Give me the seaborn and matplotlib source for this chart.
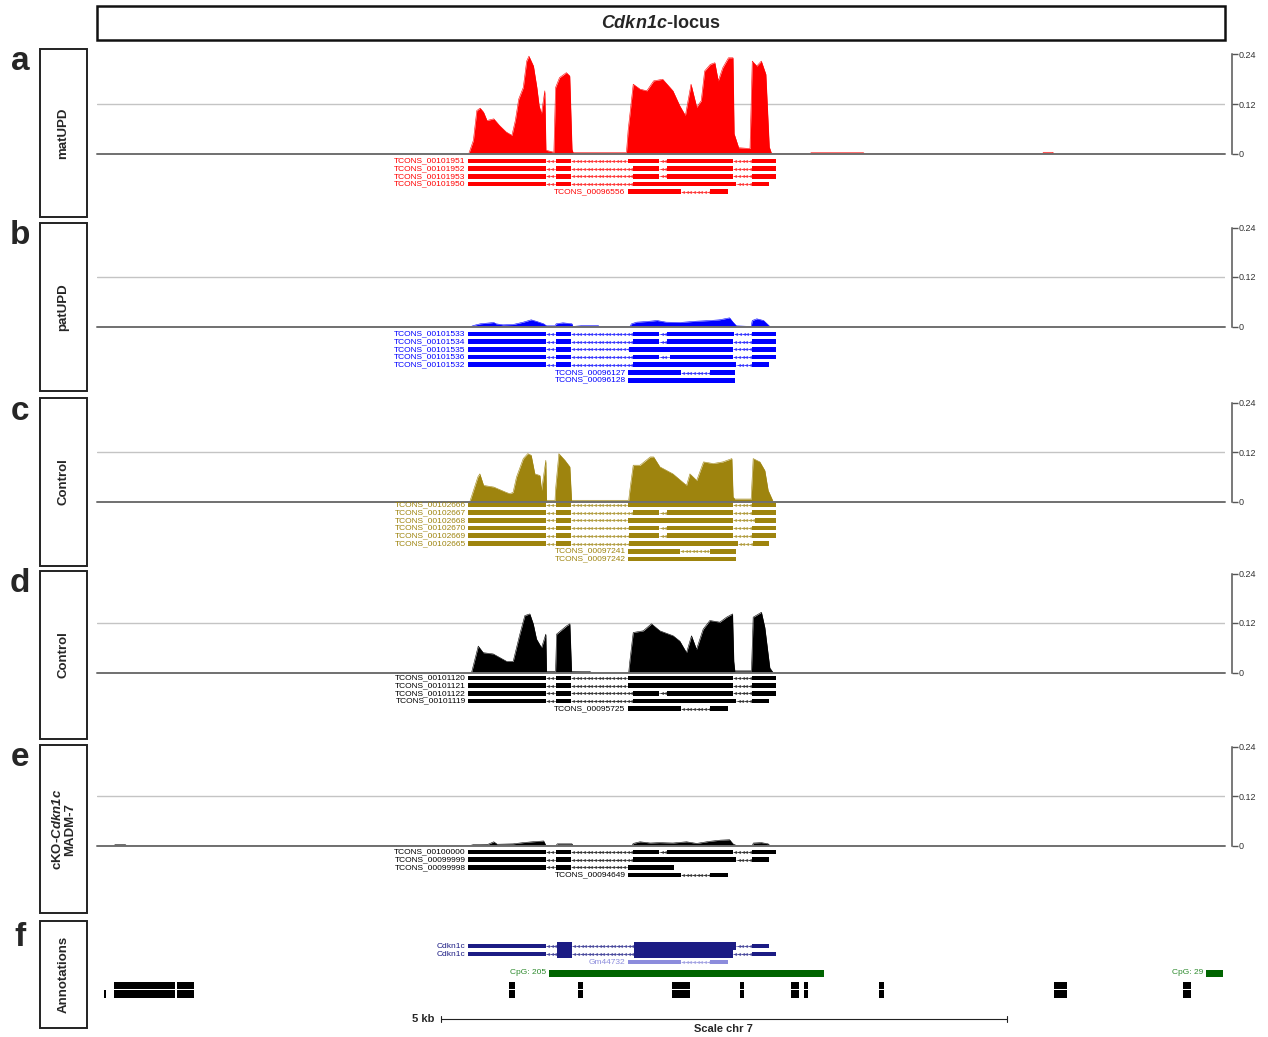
import numpy as np
import matplotlib
matplotlib.use('Agg')
import matplotlib.pyplot as plt
from matplotlib.patches import Rectangle
import seaborn as sns

sns.set_theme(style='white')
plt.rcParams['font.family'] = ['Liberation Sans', 'DejaVu Sans']
plt.rcParams['mathtext.fontset'] = 'custom'
plt.rcParams['mathtext.it'] = 'Liberation Sans:italic:bold'
plt.rcParams['mathtext.rm'] = 'Liberation Sans:italic:bold'
plt.rcParams['mathtext.bf'] = 'Liberation Sans:italic:bold'

# ---- data (genomic position in kb from left edge of window, coverage) ----
pos_a = [3.28, 3.32, 3.35, 3.38, 3.41, 3.44, 3.50, 3.55, 3.61, 3.66, 3.69, 3.72, 3.76, 3.79,
         3.81, 3.85, 3.88, 3.90, 3.92, 3.95, 3.96, 4.03, 4.045, 4.08, 4.14, 4.17, 4.19, 4.20,
         4.67, 4.685, 4.73, 4.79, 4.85, 4.91, 4.99, 5.08, 5.14, 5.19, 5.24, 5.29, 5.33, 5.36,
         5.41, 5.45, 5.48, 5.52, 5.57, 5.61, 5.62, 5.66, 5.76, 5.78, 5.82, 5.86, 5.90, 5.93,
         5.95, 6.29, 6.30, 6.76, 6.77, 8.34, 8.35, 8.43, 8.44]
val_a = [0, .032, .104, .110, .100, .080, .084, .068, .052, .044, .080, .132, .160, .224,
         .236, .212, .160, .116, .096, .152, .008, .003, .160, .184, .196, .188, .010, .002,
         .002, .056, .168, .156, .152, .176, .180, .152, .116, .092, .168, .112, .128, .200,
         .216, .220, .176, .208, .232, .232, .048, .014, .012, .224, .212, .224, .192, .016,
         0, 0, .002, .002, 0, 0, .003, .003, 0]

pos_b = [3.30, 3.32, 3.38, 3.50, 3.52, 3.58, 3.67, 3.76, 3.83, 3.88, 3.94, 3.965, 4.04, 4.05,
         4.11, 4.19, 4.195, 4.29, 4.42, 4.43, 4.70, 4.715, 4.76, 4.85, 4.94, 5.02, 5.14, 5.29,
         5.41, 5.49, 5.58, 5.61, 5.64, 5.77, 5.78, 5.82, 5.88, 5.92, 5.935]
val_b = [0, .0024, .0065, .0097, .0065, .004, .0048, .0105, .0162, .0121, .0065, .0016, .0016,
         .0065, .0089, .0065, 0, .0024, .0024, 0, 0, .0065, .0105, .0121, .0145, .0105, .0097,
         .0129, .0145, .0162, .021, .0105, .0016, 0, .0145, .0186, .0145, .004, 0]

pos_c = [3.289, 3.36, 3.377, 3.41, 3.50, 3.61, 3.64, 3.67, 3.70, 3.76, 3.80, 3.83, 3.862,
         3.907, 3.921, 3.959, 3.965, 4.04, 4.045, 4.074, 4.127, 4.171, 4.186, 4.69, 4.70, 4.73,
         4.79, 4.88, 4.91, 4.965, 5.08, 5.20, 5.23, 5.29, 5.35, 5.435, 5.52, 5.60, 5.611, 5.626,
         5.77, 5.788, 5.847, 5.891, 5.92, 5.964]
val_c = [0, .060, .067, .039, .035, .022, .019, .022, .059, .104, .116, .112, .067, .063, .027,
         .100, .003, .003, .030, .116, .100, .084, .003, .003, .027, .088, .088, .108, .108,
         .084, .067, .039, .067, .051, .096, .092, .096, .104, .011, .006, .006, .104, .096,
         .075, .027, 0]

pos_d = [3.304, 3.363, 3.407, 3.495, 3.613, 3.671, 3.730, 3.774, 3.818, 3.848, 3.877, 3.921,
         3.959, 3.965, 4.045, 4.054, 4.142, 4.171, 4.186, 4.274, 4.347, 4.36, 4.69, 4.700, 4.730,
         4.818, 4.891, 4.965, 5.082, 5.141, 5.200, 5.244, 5.288, 5.347, 5.406, 5.494, 5.553,
         5.606, 5.617, 5.626, 5.773, 5.788, 5.861, 5.891, 5.935, 5.964]
val_d = [0, .064, .048, .045, .027, .027, .093, .138, .142, .118, .081, .060, .093, .003, .003,
         .093, .113, .118, .003, .0025, .0025, 0, 0, .027, .097, .101, .118, .101, .089, .076,
         .048, .089, .056, .105, .126, .122, .134, .142, .027, .004, .004, .134, .146, .109,
         .011, 0]

pos_e = [0.15, 0.16, 0.25, 0.26, 3.29, 3.32, 3.45, 3.50, 3.53, 3.67, 3.76, 3.84, 3.94, 3.96,
         4.05, 4.06, 4.19, 4.195, 4.72, 4.73, 4.79, 4.88, 4.96, 5.08, 5.20, 5.29, 5.40, 5.50,
         5.58, 5.61, 5.64, 5.78, 5.79, 5.86, 5.92, 5.935]
val_e = [0, .002, .002, 0, 0, .002, .003, .009, .003, .004, .007, .009, .011, 0, 0, .004, .004,
         0, 0, .005, .009, .006, .007, .006, .009, .005, .010, .013, .014, .004, 0, 0, .006,
         .007, .004, 0]

tx_a = [("TCONS_00101951", [(3.27, 3.96), (4.05, 4.18), (4.68, 4.96), (5.03, 5.61), (5.78, 5.99)]),
        ("TCONS_00101952", [(3.27, 3.96), (4.05, 4.18), (4.73, 4.96), (5.03, 5.61), (5.78, 5.99)]),
        ("TCONS_00101953", [(3.27, 3.96), (4.05, 4.18), (4.73, 4.96), (5.03, 5.61), (5.78, 5.99)]),
        ("TCONS_00101950", [(3.27, 3.96), (4.05, 4.18), (4.73, 5.64), (5.78, 5.93)]),
        ("TCONS_00096556", [(4.68, 5.15), (5.41, 5.57)])]
tx_b = [("TCONS_00101533", [(3.27, 3.96), (4.05, 4.18), (4.73, 4.96), (5.03, 5.62), (5.78, 5.99)]),
        ("TCONS_00101534", [(3.27, 3.96), (4.05, 4.18), (4.73, 4.96), (5.03, 5.61), (5.78, 5.99)]),
        ("TCONS_00101535", [(3.27, 3.96), (4.05, 4.18), (4.69, 5.61), (5.78, 5.99)]),
        ("TCONS_00101536", [(3.27, 3.96), (4.05, 4.18), (4.73, 4.96), (5.05, 5.61), (5.78, 5.99)]),
        ("TCONS_00101532", [(3.27, 3.96), (4.05, 4.18), (4.73, 5.64), (5.78, 5.93)]),
        ("TCONS_00096127", [(4.68, 5.15), (5.41, 5.63)]),
        ("TCONS_00096128", [(4.68, 5.63)])]
tx_c = [("TCONS_00102666", [(3.27, 3.96), (4.05, 4.18), (4.68, 5.61), (5.78, 5.99)]),
        ("TCONS_00102667", [(3.27, 3.96), (4.05, 4.18), (4.73, 4.96), (5.03, 5.61), (5.78, 5.99)]),
        ("TCONS_00102668", [(3.27, 3.96), (4.05, 4.18), (4.68, 5.61), (5.80, 5.99)]),
        ("TCONS_00102670", [(3.27, 3.96), (4.05, 4.18), (4.69, 4.96), (5.03, 5.61), (5.78, 5.99)]),
        ("TCONS_00102669", [(3.27, 3.96), (4.05, 4.18), (4.69, 4.96), (5.03, 5.61), (5.78, 5.99)]),
        ("TCONS_00102665", [(3.27, 3.96), (4.05, 4.18), (4.69, 5.65), (5.79, 5.93)]),
        ("TCONS_00097241", [(4.68, 5.14), (5.41, 5.64)]),
        ("TCONS_00097242", [(4.68, 5.64)])]
tx_d = [("TCONS_00101120", [(3.27, 3.96), (4.05, 4.18), (4.68, 5.61), (5.78, 5.99)]),
        ("TCONS_00101121", [(3.27, 3.96), (4.05, 4.18), (4.68, 5.61), (5.78, 5.99)]),
        ("TCONS_00101122", [(3.27, 3.96), (4.05, 4.18), (4.73, 4.96), (5.03, 5.61), (5.78, 5.99)]),
        ("TCONS_00101119", [(3.27, 3.96), (4.05, 4.18), (4.73, 5.64), (5.78, 5.93)]),
        ("TCONS_00095725", [(4.68, 5.15), (5.41, 5.57)])]
tx_e = [("TCONS_00100000", [(3.27, 3.96), (4.05, 4.18), (4.73, 4.96), (5.03, 5.61), (5.78, 5.99)]),
        ("TCONS_00099999", [(3.27, 3.96), (4.05, 4.18), (4.73, 5.64), (5.78, 5.93)]),
        ("TCONS_00099998", [(3.27, 3.96), (4.05, 4.18), (4.68, 5.09)]),
        ("TCONS_00094649", [(4.68, 5.15), (5.41, 5.57)])]

# annotation track
cdkn1c_1 = [(3.27, 3.96, 'thin'), (4.06, 4.19, 'thick'), (4.74, 5.64, 'thick'), (5.78, 5.93, 'thin')]
cdkn1c_2 = [(3.27, 3.96, 'thin'), (4.06, 4.19, 'thick'), (4.74, 5.61, 'thick'), (5.78, 5.99, 'thin')]
gm44732 = [(4.68, 5.15), (5.41, 5.57)]
cpg_islands = [("CpG: 205", 3.99, 6.41), ("CpG: 29", 9.78, 9.93)]
repeat_blocks = [(0.15, 0.69), (0.71, 0.86), (3.63, 3.69), (4.24, 4.29), (5.07, 5.23), (5.67, 5.71),
                 (6.12, 6.19), (6.24, 6.27), (6.90, 6.94), (8.44, 8.56), (9.58, 9.65)]
repeat_small = [(0.06, 0.08)]
scale_start, scale_len = 3.03, 5.0
y_ticks = [0, 0.12, 0.24]

panels = [
    dict(letter='a', label='matUPD', color='#ff0000', box=(49, 217), top=54.5, base=153.5, row0=161,
         pos=pos_a, val=val_a, tx=tx_a),
    dict(letter='b', label='patUPD', color='#0000ff', box=(223, 391), top=227.5, base=326.5, row0=334,
         pos=pos_b, val=val_b, tx=tx_b),
    dict(letter='c', label='Control', color='#9e840e', box=(398, 566), top=402.5, base=501.5, row0=505,
         pos=pos_c, val=val_c, tx=tx_c),
    dict(letter='d', label='Control', color='#000000', box=(571, 739), top=573.5, base=672.5, row0=678,
         pos=pos_d, val=val_d, tx=tx_d),
    dict(letter='e', label='cKO-$\\mathit{Cdkn1c}$\nMADM-7', color='#000000', box=(745, 913),
         top=746.5, base=845.5, row0=852, pos=pos_e, val=val_e, tx=tx_e),
]

W, H = 1268, 1037
XL, XR = 97, 1225
XMAX = 9.95
ROW = 7.7

fig = plt.figure(figsize=(W / 100, H / 100), dpi=100)


def px_axes(x0, y0, x1, y1, **kw):
    return fig.add_axes([x0 / W, 1 - y1 / H, (x1 - x0) / W, (y1 - y0) / H], **kw)


def draw_gene(ax, y, exons, color, height):
    ax.broken_barh([(s, e - s) for s, e in exons], (y - height / 2, height),
                   facecolors=color, edgecolor='none')
    for (s0, e0), (s1, e1) in zip(exons[:-1], exons[1:]):
        ax.plot([e0, s1], [y, y], color=color, lw=0.5, alpha=0.7, solid_capstyle='butt')
        xs = np.arange(e0 + 0.02, s1 - 0.01, 0.032)
        ax.plot(xs, np.full(len(xs), y), ls='none', marker='<', ms=2.0, mew=0.3,
                color=color, alpha=0.55)


# overlay for boxes / letters in pixel space
ov = px_axes(0, 0, W, H, zorder=-5)
ov.set_xlim(0, W)
ov.set_ylim(H, 0)
ov.axis('off')

ov.add_patch(Rectangle((XL, 6), XR - XL, 34, fill=False, lw=1.8, ec='#111111'))
ov.text((XL + XR) / 2, 23, '$\\mathit{Cdkn1c}$-locus', ha='center', va='center',
        fontsize=13, fontweight='bold')

for p in panels:
    y0, y1 = p['box']
    ov.add_patch(Rectangle((40, y0), 47, y1 - y0, fill=False, lw=1.4, ec='#222222'))
    ov.text(63.5, (y0 + y1) / 2, p['label'], rotation=90, ha='center', va='center',
            fontsize=9.5, fontweight='bold', linespacing=1.0)
    ov.text(20, y0 + 13, p['letter'], ha='center', va='center', fontsize=24, fontweight='bold')

    # coverage track
    ax = px_axes(XL, p['top'], XR, p['base'])
    ax.fill_between(p['pos'], p['val'], color=p['color'], lw=0, zorder=2)
    sns.lineplot(x=p['pos'], y=p['val'], ax=ax, color=p['color'], lw=0.4, zorder=2)
    ax.axhline(0.12, color='#c4c4c4', lw=1.0, zorder=1)
    ax.axhline(0, color='#707070', lw=1.4, zorder=3, clip_on=False)
    ax.set_xlim(0, XMAX)
    ax.set_ylim(0, 0.24)
    ax.set_xlabel('')
    ax.set_ylabel('')
    ax.set_xticks([])
    ax.set_facecolor('none')
    for s in ['left', 'top', 'bottom']:
        ax.spines[s].set_visible(False)
    ax.spines['right'].set_visible(True)
    ax.spines['right'].set_position(('outward', 5))
    ax.spines['right'].set_color('#555555')
    ax.spines['right'].set_linewidth(1.1)
    ax.yaxis.tick_right()
    ax.set_yticks(y_ticks)
    ax.set_yticklabels(['0', '0.12', '0.24'])
    ax.tick_params(axis='y', right=True, direction='out', length=4, width=1.0, pad=1,
                   labelsize=6.5, colors='#555555', labelcolor='#333333')

    # transcripts
    n = len(p['tx'])
    ty0 = p['row0'] - ROW / 2
    tax = px_axes(XL, ty0, XR, ty0 + n * ROW)
    tax.set_xlim(0, XMAX)
    tax.set_ylim(n - 0.5, -0.5)
    tax.axis('off')
    for i, (name, exons) in enumerate(p['tx']):
        draw_gene(tax, i, exons, p['color'], 0.6)
        tax.text(exons[0][0] - 0.018, i, name, ha='right', va='center', fontsize=6,
                 color=p['color'], clip_on=False)

# annotation panel f
ov.add_patch(Rectangle((40, 921), 47, 107, fill=False, lw=1.4, ec='#222222'))
ov.text(63.5, 974.5, 'Annotations', rotation=90, ha='center', va='center',
        fontsize=9.5, fontweight='bold')
ov.text(20, 938, 'f', ha='center', va='center', fontsize=24, fontweight='bold')

fax = px_axes(XL, 938, XR, 1036)
fax.set_xlim(0, XMAX)
fax.set_ylim(98, 0)
fax.axis('off')

navy = '#1c1c84'
for yy, gene in [(8, cdkn1c_1), (16, cdkn1c_2)]:
    for s, e, kind in gene:
        h = 8.2 if kind == 'thick' else 4.0
        fax.broken_barh([(s, e - s)], (yy - h / 2, h), facecolors=navy, edgecolor='none')
    for (s0, e0, _), (s1, e1, _) in zip(gene[:-1], gene[1:]):
        fax.plot([e0, s1], [yy, yy], color=navy, lw=0.5, alpha=0.7)
        xs = np.arange(e0 + 0.02, s1 - 0.01, 0.032)
        fax.plot(xs, np.full(len(xs), yy), ls='none', marker='<', ms=2.0, mew=0.3,
                 color=navy, alpha=0.55)
    fax.text(gene[0][0] - 0.018, yy, 'Cdkn1c', ha='right', va='center', fontsize=6, color=navy)

draw_gene(fax, 24, gm44732, '#8c8cdc', 4.0)
fax.text(gm44732[0][0] - 0.018, 24, 'Gm44732', ha='right', va='center', fontsize=6,
         color='#8c8cdc')

for name, s, e in cpg_islands:
    fax.broken_barh([(s, e - s)], (31.5, 7), facecolors='#006400', edgecolor='none')
    fax.text(s - 0.025, 35, name, ha='right', va='center', fontsize=6, color='#2e8b2e')

for s, e in repeat_blocks:
    fax.broken_barh([(s, e - s)], (44, 7.4), facecolors='black', edgecolor='none')
    fax.broken_barh([(s, e - s)], (52.2, 7.6), facecolors='black', edgecolor='none')
for s, e in repeat_small:
    fax.broken_barh([(s, e - s)], (52.2, 7.6), facecolors='black', edgecolor='none')

# scale bar
fax.plot([scale_start, scale_start + scale_len], [81, 81], color='#222222', lw=0.8)
for xe in [scale_start, scale_start + scale_len]:
    fax.plot([xe, xe], [78, 84], color='#222222', lw=0.8)
fax.text(scale_start - 0.05, 81, '5 kb', ha='right', va='center', fontsize=8, fontweight='bold')
fax.text(scale_start + scale_len / 2, 91, 'Scale chr 7', ha='center', va='center', fontsize=8,
         fontweight='bold')

fig.savefig('out.png', dpi=100)
